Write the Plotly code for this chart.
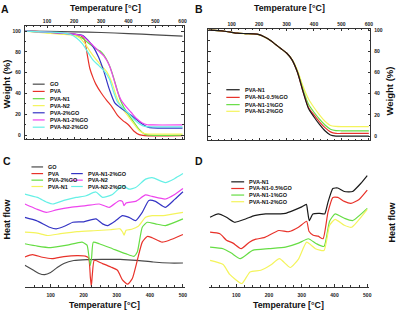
import plotly.graph_objects as go

# ---------------- DATA ----------------
# Panel A: TGA, weight (%) vs temperature
a_go_t = [20, 100, 200, 300, 400, 500, 600]
a_go_w = [100, 99.7, 99.2, 98.6, 97.6, 96.4, 95.2]
a_pva_t = [20, 60, 100, 150, 200, 225, 238, 245, 250, 258, 270, 280, 300, 320, 340, 360, 380, 400, 420, 440, 460, 600]
a_pva_w = [100, 99.6, 98.8, 97.8, 97, 95.5, 92, 83, 75, 64, 55, 49, 40.5, 33.5, 27, 19, 14, 10, 4, 0.5, -0.5, -0.5]
a_n1_t = [20, 60, 100, 150, 200, 230, 260, 280, 295, 310, 325, 340, 355, 370, 385, 400, 420, 440, 460, 480, 600]
a_n1_w = [100, 99.5, 98.5, 97.5, 96.3, 93, 87, 83, 81, 77, 70, 60, 47, 34, 26, 20, 12.5, 5.5, 1, 0, 0]
a_n2_t = [20, 60, 100, 150, 200, 220, 240, 260, 280, 300, 320, 340, 355, 370, 385, 400, 420, 440, 460, 480, 600]
a_n2_w = [100, 99, 98, 97, 95.8, 93.5, 88, 80, 73, 67, 61, 50, 38, 29, 23, 18, 11, 4.5, 1.5, 1, 1]
a_go2_t = [20, 60, 100, 150, 200, 230, 250, 270, 290, 310, 330, 350, 370, 400, 430, 450, 470, 490, 600]
a_go2_w = [100, 99.5, 99, 98, 97, 96, 91.5, 85, 75, 61, 44, 31, 26.5, 21, 15, 11, 8, 7, 6.8]
a_n1go_t = [20, 60, 100, 150, 200, 230, 250, 270, 290, 310, 330, 345, 360, 375, 390, 410, 430, 450, 470, 490, 600]
a_n1go_w = [100, 99.5, 99, 98, 97, 95.5, 91, 86, 81, 76, 67, 55, 42, 33, 28, 22, 16, 12, 10, 9.8, 9.8]
a_n2go_t = [20, 60, 100, 150, 190, 210, 230, 250, 270, 290, 310, 330, 345, 360, 380, 400, 420, 440, 460, 480, 600]
a_n2go_w = [100, 99.5, 99, 98.5, 96.5, 93, 88, 80, 72, 67, 62, 54, 42, 32, 26, 21, 15.5, 11, 8.5, 8, 8]
a_names = ["GO", "PVA", "PVA-N1", "PVA-N2", "PVA-2%GO", "PVA-N1-2%GO", "PVA-N2-2%GO"]

# Panel B: TGA of PVA-N1 with GO loadings
b_t = [15, 50, 80, 100, 120, 150, 180, 200, 220, 240, 260, 280, 300, 320, 340, 360, 380, 400, 420, 440, 460, 480, 500, 600]
b_n1 = [100, 99.6, 98.8, 98, 97.2, 96.8, 96.5, 95.8, 93.5, 90.5, 86.5, 82.5, 78.5, 72, 60, 42, 26, 18, 11, 5, 1, 0, 0, 0]
b_05 = [100, 99.6, 98.8, 98, 97.2, 96.8, 96.5, 95.8, 93.5, 90.5, 86.5, 82.5, 78.5, 72, 60, 42, 27, 20, 13.5, 8, 4, 2.5, 2.5, 2.5]
b_1 = [100, 99.6, 98.8, 98, 97.2, 96.8, 96.5, 95.8, 93.5, 90.5, 86.5, 82.5, 78.5, 72, 60.5, 44, 30, 22.5, 16, 10.5, 6.5, 5.2, 5, 5]
b_2 = [100, 99.6, 98.8, 98, 97.2, 96.6, 96.2, 95.5, 93.5, 90.5, 86.5, 82.5, 78.5, 72.5, 62, 47, 35, 27, 20, 14, 10, 9.2, 9, 9]
b_names = ["PVA-N1", "PVA-N1-0.5%GO", "PVA-N1-1%GO", "PVA-N1-2%GO"]

# Panel C: DSC heat flow (arbitrary units, offset curves)
c_go_t = [22, 47, 65, 82, 100, 120, 140, 170, 210, 260, 310, 360, 410, 460, 500]
c_go = [21.7, 17, 13.5, 12.3, 14.5, 19.5, 23.5, 26.5, 27.5, 27.7, 27.7, 26.7, 25, 24, 24]
c_pva_t = [22, 45, 75, 105, 140, 180, 205, 215, 220, 223, 226, 232, 257, 282, 302, 317, 333, 347, 362, 377, 392, 407, 437, 457, 500]
c_pva = [30, 32.4, 29.8, 28.5, 30.5, 31.5, 31, 29, 10, 0.5, 12, 26.7, 23.4, 20, 16.7, 7, 2.7, 8.4, 26.7, 45, 50.7, 49.4, 45, 46.7, 52.7]
c_go2_t = [22, 60, 100, 150, 195, 210, 216, 220, 224, 229, 247, 287, 327, 352, 362, 377, 392, 417, 447, 500]
c_go2 = [43.4, 41, 39.5, 42, 45, 42, 30, 21.7, 30, 45, 43.4, 38.4, 33.4, 30.7, 35, 60, 65, 63.4, 61.7, 68.4]
c_n1_t = [22, 60, 90, 130, 180, 230, 280, 310, 318, 322, 328, 345, 365, 387, 407, 440, 500]
c_n1 = [55, 54, 51.7, 53.5, 55.5, 56.5, 57.5, 58.4, 55, 52, 57, 58, 61, 70, 71.7, 71.7, 75]
c_n1go_t = [22, 57, 97, 117, 147, 167, 200, 237, 257, 272, 297, 317, 337, 357, 377, 397, 417, 447, 475, 500]
c_n1go = [70, 66.7, 60, 58.4, 61.7, 65, 65.5, 68.4, 63.4, 61.7, 66.7, 71.7, 70, 66.7, 75, 87, 86, 80, 88, 95.7]
c_n2_t = [22, 57, 87, 117, 160, 207, 247, 277, 307, 317, 322, 328, 357, 387, 407, 447, 475, 500]
c_n2 = [83.4, 78.4, 75, 77.4, 80, 81.7, 83.4, 80, 86.7, 86, 81.7, 84.5, 86, 92.5, 91, 88.4, 93, 99]
c_n2go_t = [22, 60, 90, 107, 140, 177, 207, 237, 257, 287, 317, 337, 357, 387, 407, 447, 475, 500]
c_n2go = [93.4, 90, 85, 83.4, 87, 90, 91.7, 95.5, 90, 93, 101.7, 98.4, 100, 108.4, 110, 105, 109, 114]
c_names = ["GO", "PVA", "PVA-2%GO", "PVA-N1", "PVA-N1-2%GO", "PVA-N2", "PVA-N2-2%GO"]

# Panel D: DSC of PVA-N1 with GO loadings
d_n1_t = [20, 45, 70, 95, 130, 155, 190, 235, 250, 275, 300, 314, 318, 323, 334, 355, 370, 380, 395, 410, 430, 455, 480, 500]
d_n1 = [70, 73.4, 70, 65, 68.5, 71.7, 73.5, 73.4, 74, 77, 80.5, 83, 76, 66.7, 73.4, 74, 73.4, 85, 99, 99.5, 96, 96, 104, 112]
d_05_t = [20, 50, 70, 90, 115, 140, 160, 185, 230, 260, 290, 315, 322, 335, 350, 365, 380, 395, 410, 430, 450, 475, 500]
d_05 = [55, 53.4, 47, 44, 38.4, 45, 48, 49.5, 56.7, 55.5, 60, 66, 56, 52, 51, 48.4, 75, 90, 90, 86, 84, 88, 97.4]
d_1_t = [20, 60, 85, 112, 150, 200, 250, 290, 320, 345, 368, 385, 402, 430, 455, 500]
d_1 = [40, 38.4, 34, 28.4, 36.7, 38.4, 40, 44, 48.4, 43.4, 40.7, 66, 73.5, 69, 66.7, 79]
d_2_t = [20, 60, 80, 117, 142, 175, 205, 232, 265, 290, 315, 342, 368, 385, 402, 430, 452, 500]
d_2 = [26.7, 22.5, 12.5, 3.4, 15, 16.7, 22, 28.4, 19.5, 28, 45, 38.4, 36.7, 62, 68, 62, 60, 78]
d_names = ["PVA-N1", "PVA-N1-0.5%GO", "PVA-N1-1%GO", "PVA-N1-2%GO"]

temp_ticks_ab = [100, 200, 300, 400, 500, 600]
temp_ticks_cd = [100, 200, 300, 400, 500]
weight_ticks = [0, 20, 40, 60, 80, 100]

# ---------------- STYLE ----------------
W, H = 400, 312
FONT = "Liberation Sans, Arial, sans-serif"
GRAY, RED, GREEN, YELLOW = "#4a4a4a", "#e8322a", "#66dd44", "#f4f45c"
BLUE, MAGENTA, CYAN, BLACK = "#3434c4", "#ee44ee", "#66f0e6", "#1a1a1a"
LW = 1.2


def px(v):
    return v / W


def py(v):
    return 1 - v / H


fig = go.Figure()


def add(xs, ys, color, xa, ya, smooth=0.7):
    fig.add_trace(go.Scatter(x=xs, y=ys, mode="lines", xaxis=xa, yaxis=ya,
                             line=dict(color=color, width=LW, shape="spline", smoothing=smooth),
                             showlegend=False, hoverinfo="skip"))


# A
a_series = [(a_go_t, a_go_w, GRAY), (a_pva_t, a_pva_w, RED), (a_n1_t, a_n1_w, GREEN),
            (a_n2_t, a_n2_w, YELLOW), (a_go2_t, a_go2_w, BLUE), (a_n1go_t, a_n1go_w, MAGENTA),
            (a_n2go_t, a_n2go_w, CYAN)]
for t, w, c in a_series:
    add(t, w, c, "x", "y")
# B
b_series = [(b_2, YELLOW), (b_1, GREEN), (b_05, RED), (b_n1, BLACK)]
for w, c in b_series:
    add(b_t, w, c, "x2", "y2")
# C
c_series = [(c_go_t, c_go, GRAY), (c_pva_t, c_pva, RED), (c_go2_t, c_go2, GREEN), (c_n1_t, c_n1, YELLOW),
            (c_n1go_t, c_n1go, BLUE), (c_n2_t, c_n2, MAGENTA), (c_n2go_t, c_n2go, CYAN)]
for t, v, c in c_series:
    add(t, v, c, "x3", "y3", 0.5)
# D
d_series = [(d_n1_t, d_n1, BLACK), (d_05_t, d_05, RED), (d_1_t, d_1, GREEN), (d_2_t, d_2, YELLOW)]
for t, v, c in d_series:
    add(t, v, c, "x4", "y4", 0.5)

tickfont = dict(family=FONT, size=5, color="#222", weight="bold")
frame = dict(showline=True, linecolor="#333", linewidth=1, mirror="allticks", ticks="inside",
             ticklen=2.5, tickcolor="#333", tickwidth=0.8, showgrid=False, zeroline=False,
             tickfont=tickfont)

fig.update_layout(
    width=W, height=H, margin=dict(l=0, r=0, t=0, b=0),
    paper_bgcolor="white", plot_bgcolor="white",
    xaxis=dict(domain=[px(25), px(185)], range=[18, 604], side="top", anchor="y",
               tickvals=temp_ticks_ab, minor=dict(dtick=25, ticks="inside", ticklen=1.5, tickcolor="#333"),
               **frame),
    yaxis=dict(domain=[py(138), py(24)], range=[-3.8, 105], anchor="x", tickvals=weight_ticks,
               minor=dict(dtick=10, ticks="inside", ticklen=1.5, tickcolor="#333"), ticklabelstandoff=2,
               **frame),
    xaxis2=dict(domain=[px(210), px(373)], range=[15, 605], side="top", anchor="y2",
                tickvals=temp_ticks_ab, minor=dict(dtick=25, ticks="inside", ticklen=1.5, tickcolor="#333"),
                **frame),
    yaxis2=dict(domain=[py(139), py(27)], range=[-3.8, 101.3], anchor="x2", side="right",
                tickvals=weight_ticks, minor=dict(dtick=10, ticks="inside", ticklen=1.5, tickcolor="#333"),
                ticklabelstandoff=2, **frame),
    xaxis3=dict(domain=[px(25), px(186)], range=[22, 505], anchor="y3", showline=True, linecolor="#333",
                linewidth=1, ticks="inside", ticklen=2.5, tickcolor="#333", tickwidth=0.8,
                tickvals=temp_ticks_cd, minor=dict(dtick=25, ticks="inside", ticklen=1.5, tickcolor="#333"),
                showgrid=False, zeroline=False, tickfont=tickfont, ticklabelstandoff=3),
    yaxis3=dict(domain=[py(286.7), py(160)], range=[0, 126.7], anchor="x3", visible=False),
    xaxis4=dict(domain=[px(211), px(372)], range=[18, 506], anchor="y4", showline=True, linecolor="#333",
                linewidth=1, ticks="inside", ticklen=2.5, tickcolor="#333", tickwidth=0.8,
                tickvals=temp_ticks_cd, minor=dict(dtick=25, ticks="inside", ticklen=1.5, tickcolor="#333"),
                showgrid=False, zeroline=False, tickfont=tickfont, ticklabelstandoff=3),
    yaxis4=dict(domain=[py(286.7), py(160)], range=[0, 126.7], anchor="x4", visible=False),
)

ann = []
shapes = []


def text(x, y, s, size, xanchor="center", angle=0, yanchor="middle"):
    ann.append(dict(x=px(x), y=py(y), xref="paper", yref="paper", text=s, showarrow=False,
                    xanchor=xanchor, yanchor=yanchor, textangle=angle,
                    font=dict(family=FONT, size=size, color="#111", weight="bold")))


def legend_item(x0, x1, y, color, label):
    shapes.append(dict(type="line", xref="paper", yref="paper", x0=px(x0), x1=px(x1), y0=py(y), y1=py(y),
                       line=dict(color=color, width=LW)))
    text(x1 + 3, y, label, 5.5, xanchor="left")


# panel letters
text(5.5, 7.5, "A", 10.5)
text(200, 7.5, "B", 10.5)
text(7, 160.5, "C", 10.5)
text(200, 160.5, "D", 10.5)
# axis titles
text(106, 6, "Temperature [°C]", 8.8)
text(292, 6, "Temperature [°C]", 8.8)
text(105, 305, "Temperature [°C]", 8.8)
text(291, 305, "Temperature [°C]", 8.8)
text(7, 82, "Weight (%)", 9.5, angle=-90)
text(392, 90, "Weight (%)", 9.5, angle=-90)
text(7, 218, "Heat flow", 9, angle=-90)
text(395, 222, "Heat flow", 9, angle=-90)

# legends
a_rows = [82.7, 90, 97.3, 104.3, 111.5, 118.7, 126]
for (t, w, c), name, yy in zip(a_series, a_names, a_rows):
    legend_item(33, 45, yy, c, name)
b_rows = [88.3, 96, 103.3, 110]
for (w, c), name, yy in zip(b_series[::-1], b_names, b_rows):
    legend_item(228, 241.5, yy, c, name)
c_pos = [(31.7, 166), (31.7, 172.7), (31.7, 179.3), (31.7, 185.7), (71.7, 172.7), (71.7, 179.3), (71.7, 185.7)]
for (t, v, c), name, (xx, yy) in zip(c_series, c_names, c_pos):
    legend_item(xx, xx + 11.7, yy, c, name)
d_rows = [181, 187.7, 194.3, 201]
for (t, v, c), name, yy in zip(d_series, d_names, d_rows):
    legend_item(233, 246, yy, c, name)

fig.update_layout(annotations=ann, shapes=shapes)
fig.write_html("out.html", config={"displayModeBar": False},
               post_script="document.body.style.margin='0px';")
